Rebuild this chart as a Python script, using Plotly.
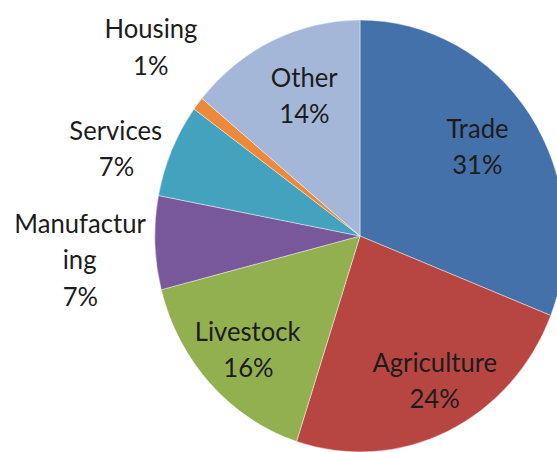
import plotly.graph_objects as go

# Sector shares (percent)
sectors = ["Trade", "Agriculture", "Livestock", "Manufacturing", "Services", "Housing", "Other"]
shares = [31, 24, 16, 7, 7, 1, 14]
slice_colors = ["#4571AB", "#B74643", "#93B050", "#78579B", "#43A3BE", "#EC893A", "#A4B7D9"]

# How each sector name wraps in its label
name_lines = {"Manufacturing": ["Manufactur", "ing"]}

# Label anchor (x, first-line y) in page pixels and line spacing
label_pos = {
    "Trade": (477, 127),
    "Agriculture": (435, 361),
    "Livestock": (248, 330),
    "Manufacturing": (80, 222),
    "Services": (116, 129),
    "Housing": (151, 28),
    "Other": (304, 76),
}
LINE = 36.5

# The chart is drawn on a wider canvas and narrowed horizontally in the page,
# so the pie comes out slightly oval.
SX = 0.95
W, H = 600, 470
CX, CY, R = 360 / SX, 236, 216

fig = go.Figure(
    go.Pie(
        labels=sectors,
        values=shares,
        sort=False,
        direction="clockwise",
        rotation=0,
        marker=dict(colors=slice_colors, line=dict(color="rgba(255,255,255,0.55)", width=0.8)),
        textinfo="none",
        textposition="none",
        hoverinfo="label+percent",
        domain=dict(x=[(CX - R) / W, (CX + R) / W], y=[1 - (CY + R) / H, 1 - (CY - R) / H]),
        showlegend=False,
    )
)

total = sum(shares)
annotations = []
for name, val in zip(sectors, shares):
    lines = name_lines.get(name, [name]) + [f"{round(100 * val / total)}%"]
    x0, y0 = label_pos[name]
    for i, line in enumerate(lines):
        annotations.append(
            dict(
                x=(x0 / SX) / W,
                y=1 - (y0 + i * LINE) / H,
                xref="paper",
                yref="paper",
                text=line,
                showarrow=False,
                xanchor="center",
                yanchor="middle",
                font=dict(family="Lato", size=27, color="#1c1c1c"),
            )
        )

fig.update_layout(
    width=W,
    height=H,
    margin=dict(l=0, r=0, t=0, b=0),
    paper_bgcolor="white",
    plot_bgcolor="white",
    annotations=annotations,
)

post = (
    "var d=document.getElementById('{plot_id}');"
    "d.style.transformOrigin='0 0';"
    "d.style.transform='scaleX(%s)';"
    "document.documentElement.style.overflow='hidden';"
    "document.body.style.overflow='hidden';"
    "document.body.style.margin='0';" % SX
)
fig.write_html("out.html", post_script=post)
